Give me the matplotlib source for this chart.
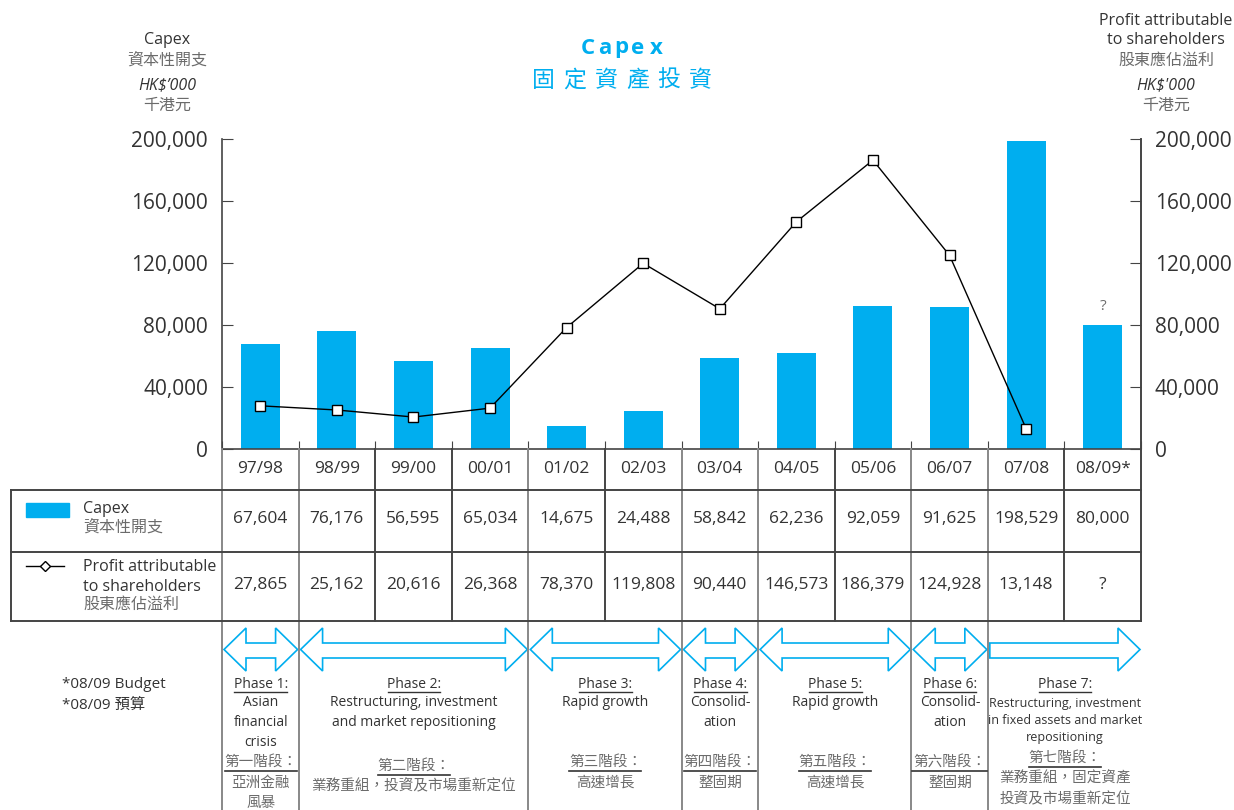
import matplotlib

matplotlib.use("Agg")
import matplotlib.pyplot as plt
import matplotlib.transforms as mtransforms
import numpy as np
from matplotlib.patches import Polygon, Rectangle

plt.rcParams["font.family"] = ["Open Sans", "Noto Sans CJK TC", "DejaVu Sans"]

years = ["97/98", "98/99", "99/00", "00/01", "01/02", "02/03", "03/04",
         "04/05", "05/06", "06/07", "07/08", "08/09*"]
capex = [67604, 76176, 56595, 65034, 14675, 24488, 58842, 62236, 92059, 91625, 198529, 80000]
profit = [27865, 25162, 20616, 26368, 78370, 119808, 90440, 146573, 186379, 124928, 13148, None]
y_ticks = [0, 40000, 80000, 120000, 160000, 200000]

# phases: first/last column, english lines, chinese heading, chinese lines
phase_cols = [(0, 0), (1, 3), (4, 5), (6, 6), (7, 8), (9, 9), (10, 11)]
phase_en = [
    ["Asian", "financial", "crisis"],
    ["Restructuring, investment", "and market repositioning"],
    ["Rapid growth"],
    ["Consolid-", "ation"],
    ["Rapid growth"],
    ["Consolid-", "ation"],
    ["Restructuring, investment", "in fixed assets and market", "repositioning"],
]
phase_zh_head = ["第一階段：", "第二階段：", "第三階段：", "第四階段：", "第五階段：", "第六階段：", "第七階段："]
phase_zh = [
    ["亞洲金融", "風暴"],
    ["業務重組，投資及市場重新定位"],
    ["高速增長"],
    ["整固期"],
    ["高速增長"],
    ["整固期"],
    ["業務重組，固定資產", "投資及市場重新定位"],
]

CYAN = "#00AEEF"
DARK = "#333333"
GREY = "#6b6b6b"
LINE = "#444444"

W, H = 1234, 810
X0, X1, Y0, Y1 = 222, 1141, 449, 139

fig = plt.figure(figsize=(W / 100, H / 100), dpi=100)
ax = fig.add_axes([X0 / W, 1 - Y0 / H, (X1 - X0) / W, (Y0 - Y1) / H])
ov = fig.add_axes([0, 0, 1, 1], zorder=5)
ov.set_xlim(0, W)
ov.set_ylim(H, 0)
ov.axis("off")
ov.patch.set_visible(False)

n = len(years)
x = np.arange(n)
ax.bar(x, capex, width=0.51, color=CYAN, zorder=2)
ax.set_xlim(-0.5, n - 0.5)
ax.set_ylim(0, 200000)
ax.set_xticks(np.arange(n + 1) - 0.5)
ax.tick_params(axis="x", direction="in", length=6, labelbottom=False, color=LINE)
ax.set_yticks(y_ticks)
ax.set_yticklabels([f"{v:,}" for v in y_ticks])
ax.tick_params(axis="y", direction="in", length=8, pad=10, labelsize=15, labelcolor=DARK, color=LINE)
ax.spines["top"].set_visible(False)
for side in ["left", "right", "bottom"]:
    ax.spines[side].set_color(LINE)
    ax.spines[side].set_linewidth(1.2)

ax2 = ax.twinx()
ax2.set_ylim(0, 200000)
ax2.set_yticks(y_ticks)
ax2.set_yticklabels([f"{v:,}" for v in y_ticks])
ax2.tick_params(axis="y", direction="in", length=8, pad=10, labelsize=15, labelcolor=DARK, color=LINE)
for side in ["top", "left", "bottom"]:
    ax2.spines[side].set_visible(False)
ax2.spines["right"].set_color(LINE)
ax2.spines["right"].set_linewidth(1.2)
px = [i for i, v in enumerate(profit) if v is not None]
py = [profit[i] for i in px]
ax2.plot(px, py, color="black", lw=1.0, marker="s", ms=7, mfc="white", mec="black", mew=1.0, zorder=3)
ax.annotate("?", (x[-1], capex[-1]), xytext=(0, 8), textcoords="offset points",
            ha="center", va="bottom", fontsize=11, color=GREY)

# titles
for ch, cx in zip("Capex", [588, 605, 621, 638, 656]):
    ov.text(cx, 48, ch, ha="center", va="center", fontsize=16, fontweight="bold", color=CYAN)
for i, ch in enumerate("固定資產投資"):
    ov.text(543 + i * 31.5, 81, ch, ha="center", va="center", fontsize=16.5, color=CYAN)

ov.text(167, 40, "Capex", ha="center", va="center", fontsize=11.5, color=DARK)
ov.text(167, 61, "資本性開支", ha="center", va="center", fontsize=11.5, color=GREY)
ov.text(167, 85, "HK$’000", ha="center", va="center", fontsize=11.5, style="italic", color=DARK)
ov.text(167, 106, "千港元", ha="center", va="center", fontsize=11.5, style="italic", color=GREY)
ov.text(1166, 21, "Profit attributable", ha="center", va="center", fontsize=11.5, color=DARK)
ov.text(1166, 40, "to shareholders", ha="center", va="center", fontsize=11.5, color=DARK)
ov.text(1166, 61, "股東應佔溢利", ha="center", va="center", fontsize=11.5, color=GREY)
ov.text(1166, 85, "HK$'000", ha="center", va="center", fontsize=11.5, style="italic", color=DARK)
ov.text(1166, 106, "千港元", ha="center", va="center", fontsize=11.5, style="italic", color=GREY)

# table, x in data units of ax, y in pixels
tr = mtransforms.blended_transform_factory(ax.transData, ov.transData)
bounds = np.arange(n + 1) - 0.5
phase_edges = sorted({phase_cols[0][0] - 0.5} | {c[1] + 0.5 for c in phase_cols[:-1]})
for b in bounds:
    col = "#888888" if b in phase_edges else LINE
    ov.plot([b, b], [449, 621], transform=tr, color=col, lw=1.4, zorder=1)
for b in phase_edges:
    ov.plot([b, b], [621, 810], transform=tr, color="#888888", lw=1.4)
ov.plot([11, 11], [490, 621], color=LINE, lw=1.4)
for yy in [490, 552, 621]:
    ov.plot([11, X1], [yy, yy], color=LINE, lw=1.4)

for i in range(n):
    ov.text(x[i], 469, years[i], transform=tr, ha="center", va="center", fontsize=12.5, color=DARK)
    ov.text(x[i], 519, f"{capex[i]:,}", transform=tr, ha="center", va="center", fontsize=12.5, color=DARK)
    label = "?" if profit[i] is None else f"{profit[i]:,}"
    ov.text(x[i], 585, label, transform=tr, ha="center", va="center", fontsize=12.5, color=DARK)

# legend inside table
ov.add_patch(Rectangle((26, 503), 43, 14, color=CYAN))
ov.text(83, 509, "Capex", ha="left", va="center", fontsize=11.5, color=DARK)
ov.text(83, 528, "資本性開支", ha="left", va="center", fontsize=11.5, color=GREY)
ov.plot([26, 64], [566, 566], color="black", lw=1.0)
ov.plot([45], [566], marker="D", ms=5, mfc="white", mec="black", mew=1.0)
ov.text(83, 567, "Profit attributable", ha="left", va="center", fontsize=11.5, color=DARK)
ov.text(83, 587, "to shareholders", ha="left", va="center", fontsize=11.5, color=DARK)
ov.text(83, 605, "股東應佔溢利", ha="left", va="center", fontsize=11.5, color=GREY)

ov.text(62, 685, "*08/09 Budget", ha="left", va="center", fontsize=11, color=DARK)
ov.text(62, 705, "*08/09 預算", ha="left", va="center", fontsize=11, color=DARK)


def to_px(v):
    return X0 + (v + 0.5) * (X1 - X0) / n


# phase arrows and captions
for k, (c0, c1) in enumerate(phase_cols):
    left, right = to_px(c0 - 0.5) + 2, to_px(c1 + 0.5) - 1
    mid = (left + right) / 2
    head = 22
    top, bot, s_top, s_bot = 628, 671, 643, 658
    ymid = (top + bot) / 2
    if k < len(phase_cols) - 1:
        pts = [(left, ymid), (left + head, top), (left + head, s_top), (right - head, s_top),
               (right - head, top), (right, ymid), (right - head, bot), (right - head, s_bot),
               (left + head, s_bot), (left + head, bot)]
    else:
        pts = [(left, s_top), (right - head, s_top), (right - head, top), (right, ymid),
               (right - head, bot), (right - head, s_bot), (left, s_bot)]
    ov.add_patch(Polygon(pts, closed=True, fc="white", ec=CYAN, lw=1.2))

    last = k == len(phase_cols) - 1
    fs = 9 if last else 10
    ov.text(mid, 684, f"Phase {k + 1}:", ha="center", va="center", fontsize=10, color=DARK)
    half = len(f"Phase {k + 1}:") * 3.3
    ov.plot([mid - half, mid + half], [692, 692], color=DARK, lw=1.0)
    step = 17 if last else 19.5
    for j, line in enumerate(phase_en[k]):
        ov.text(mid, 703 + j * step, line, ha="center", va="center", fontsize=fs, color=DARK)
    if k == 1:
        zy = 766
    elif last:
        zy = 758
    else:
        zy = 762
    ov.text(mid, zy, phase_zh_head[k], ha="center", va="center", fontsize=10.5, color=GREY)
    if k == 5:
        ov.plot([left - 1, right], [zy + 9, zy + 9], color=DARK, lw=1.2)
    else:
        ov.plot([mid - 36, mid + 36], [zy + 9, zy + 9], color=DARK, lw=1.2)
    for j, line in enumerate(phase_zh[k]):
        ov.text(mid, zy + 21 + j * 20.5, line, ha="center", va="center", fontsize=10.5, color=GREY)

fig.savefig("out.png", dpi=100)
